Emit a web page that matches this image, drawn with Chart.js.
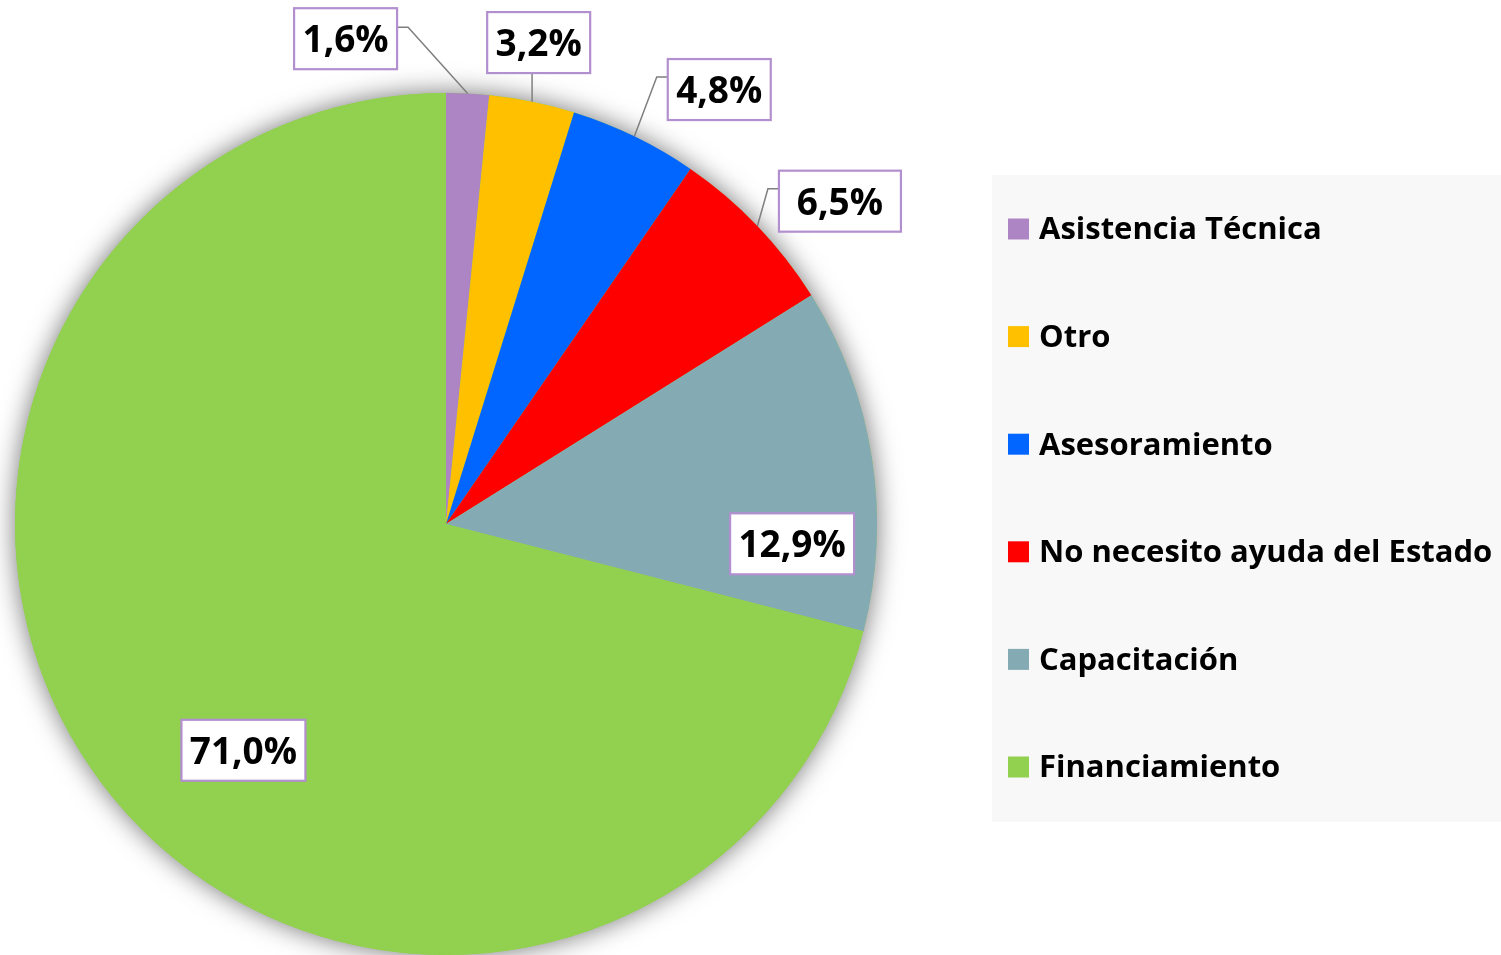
<!DOCTYPE html>
<html>
<head>
<meta charset="utf-8">
<script src="https://cdn.jsdelivr.net/npm/chart.js@4/dist/chart.umd.min.js"></script>
<style>
  html, body { margin: 0; padding: 0; background: #ffffff; overflow: hidden; }
  #wrap { width: 1501px; height: 955px; }
</style>
</head>
<body>
<div id="wrap"><canvas id="c" width="1501" height="955"></canvas></div>
<script>
// Categories, values (percent) and slice colours
const categories = [
  'Asistencia Técnica',
  'Otro',
  'Asesoramiento',
  'No necesito ayuda del Estado',
  'Capacitación',
  'Financiamiento'
];
const shares = [1.6, 3.2, 4.8, 6.5, 12.9, 71.0];
const sliceColors = ['#ad85c5', '#ffc000', '#0066ff', '#ff0000', '#84aab4', '#92d050'];

// Label box centres, in units of the pie radius relative to the pie centre
const labelPlacement = [
  [-0.233, -1.126],
  [ 0.215, -1.117],
  [ 0.634, -1.008],
  [ 0.914, -0.749],
  [ 0.803,  0.046],
  [-0.470,  0.525]
];
// Label box widths (px)
const labelBoxWidths = [103, 103, 103, 122, 124, 124];

const LABEL_FONT = 'bold 37px "Open Sans", Lato, sans-serif';
const LEGEND_FONT = 'bold 31px "Open Sans", Lato, sans-serif';

function fmt(v) {
  return v.toFixed(1).replace('.', ',') + '%';
}

// Soft shadow behind the whole pie
const pieShadow = {
  id: 'pieShadow',
  beforeDatasetsDraw(chart) {
    const arc = chart.getDatasetMeta(0).data[0];
    if (!arc) return;
    const { x, y, outerRadius } = arc.getProps(['x', 'y', 'outerRadius'], true);
    const ctx = chart.ctx;
    ctx.save();
    ctx.shadowColor = 'rgba(0,0,0,0.55)';
    ctx.shadowBlur = 26;
    ctx.shadowOffsetX = 0;
    ctx.shadowOffsetY = 0;
    ctx.fillStyle = '#92d050';
    ctx.beginPath();
    ctx.arc(x, y, outerRadius, 0, Math.PI * 2);
    ctx.fill();
    ctx.restore();
  }
};

// Boxed percentage labels with leader lines for the outside ones
const boxedLabels = {
  id: 'boxedLabels',
  afterDatasetsDraw(chart) {
    const ctx = chart.ctx;
    const meta = chart.getDatasetMeta(0);
    const values = chart.data.datasets[0].data;
    ctx.save();
    ctx.font = LABEL_FONT;
    meta.data.forEach((arc, i) => {
      const p = arc.getProps(['x', 'y', 'startAngle', 'endAngle', 'outerRadius'], true);
      const R = p.outerRadius;
      const cx = p.x + labelPlacement[i][0] * R;
      const cy = p.y + labelPlacement[i][1] * R;
      const text = fmt(values[i]);
      const bw = labelBoxWidths[i];
      const bh = 61;
      const left = cx - bw / 2, top = cy - bh / 2, right = cx + bw / 2, bottom = cy + bh / 2;
      const outside = Math.hypot(cx - p.x, cy - p.y) > R;

      if (outside) {
        const mid = (p.startAngle + p.endAngle) / 2;
        const ax = p.x + Math.cos(mid) * R;
        const ay = p.y + Math.sin(mid) * R;
        ctx.beginPath();
        ctx.strokeStyle = '#7f7f7f';
        ctx.lineWidth = 1.5;
        ctx.moveTo(ax, ay);
        if (ax >= left && ax <= right) {
          ctx.lineTo(ax, bottom);
        } else if (ax > right) {
          ctx.lineTo(right + 11, top + 19);
          ctx.lineTo(right, top + 19);
        } else {
          ctx.lineTo(left - 11, top + 18);
          ctx.lineTo(left, top + 18);
        }
        ctx.stroke();
      }

      ctx.fillStyle = '#ffffff';
      ctx.fillRect(left, top, bw, bh);
      ctx.strokeStyle = '#b28fce';
      ctx.lineWidth = 2.2;
      ctx.strokeRect(left, top, bw, bh);
      ctx.fillStyle = '#000000';
      ctx.textAlign = 'center';
      ctx.textBaseline = 'middle';
      ctx.fillText(text, cx, cy + 3);
    });
    ctx.restore();
  }
};

// Legend panel on the right
const sideLegend = {
  id: 'sideLegend',
  afterDraw(chart) {
    const ctx = chart.ctx;
    const labels = chart.data.labels;
    const colors = chart.data.datasets[0].backgroundColor;
    const box = { x: 992, y: 175, w: 509, h: 647 };
    ctx.save();
    ctx.fillStyle = '#f8f8f8';
    ctx.fillRect(box.x, box.y, box.w, box.h);
    ctx.font = LEGEND_FONT;
    ctx.textAlign = 'left';
    ctx.textBaseline = 'middle';
    const firstY = 229, step = 107.6, sq = 21;
    labels.forEach((lab, i) => {
      const yy = firstY + i * step;
      ctx.fillStyle = colors[i];
      ctx.fillRect(1008, yy - sq / 2, sq, sq);
      ctx.fillStyle = '#000000';
      ctx.fillText(lab, 1039, yy + 1.5);
    });
    ctx.restore();
  }
};

new Chart(document.getElementById('c'), {
  type: 'pie',
  data: {
    labels: categories,
    datasets: [{
      data: shares,
      backgroundColor: sliceColors,
      borderWidth: 0,
      hoverOffset: 0,
      offset: 0
    }]
  },
  options: {
    responsive: false,
    animation: false,
    events: [],
    layout: { padding: { left: 15, top: 93, right: 624, bottom: 0 } },
    plugins: {
      legend: { display: false },
      tooltip: { enabled: false },
      title: { display: false }
    }
  },
  plugins: [pieShadow, boxedLabels, sideLegend]
});
</script>
</body>
</html>
